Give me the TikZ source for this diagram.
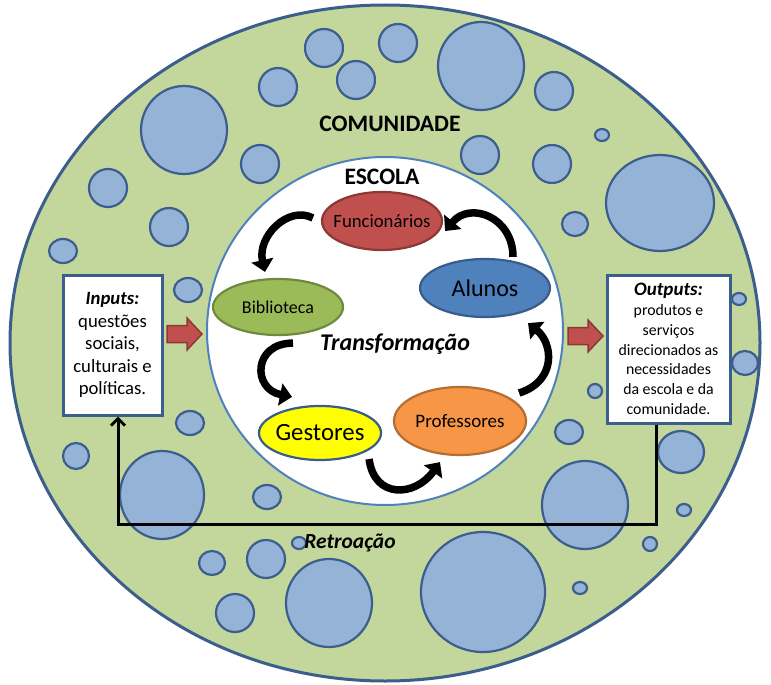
\documentclass[tikz,border=0pt]{standalone}
\usepackage{fontspec}
\setmainfont{Carlito}
\usepackage{tikz}
\usetikzlibrary{positioning, arrows.meta, shapes.geometric, calc}

\definecolor{commfill}{HTML}{C3D69B}
\definecolor{ringline}{HTML}{3B5E8C}
\definecolor{bubblefill}{HTML}{95B3D7}
\definecolor{innerline}{HTML}{4F81BD}
\definecolor{funcfill}{HTML}{C0504D}
\definecolor{funcline}{HTML}{8C3836}
\definecolor{bibfill}{HTML}{9BBB59}
\definecolor{bibline}{HTML}{71893F}
\definecolor{alufill}{HTML}{4F81BD}
\definecolor{aluline}{HTML}{385D8A}
\definecolor{gesfill}{HTML}{FFFF00}
\definecolor{proffill}{HTML}{F79646}
\definecolor{profline}{HTML}{B66D31}

\begin{document}
\begin{tikzpicture}[x=1pt, y=-1pt,
    bubble/.style={draw=ringline, fill=bubblefill, line width=2.2pt},
    member/.style={ellipse, line width=2.2pt, inner sep=0pt},
    infobox/.style={rectangle, draw=ringline, fill=white, line width=3pt,
                    align=center, inner sep=0pt},
    turn/.style={line width=7.5pt, -{Triangle[length=12pt, width=22pt]}},
    blockarrow/.style={draw=funcline, fill=funcfill, line width=1.5pt, line join=miter},
    feedback/.style={line width=3pt, -{Straight Barb[length=7pt, width=14pt]}},
    title/.style={font=\bfseries\fontsize{23.6}{28}\selectfont}
]

    \useasboundingbox (0,0) rectangle (771,685);
    \fill[white] (0,0) rectangle (771,685);

    % Community
    \draw[draw=ringline, fill=commfill, line width=3pt] (385,343) ellipse [x radius=375, y radius=338];

    % Bubbles
    \foreach \x/\y/\a/\b in {324/48/19/19, 356/80/19/19, 278/87/19/19, 184/130/43/44,
        260/164/19/19, 108/188/19/19, 169/227/19/19, 63/251/14/12, 188/290/14/12,
        398/43/19/19, 481/66/43/44, 554/91/19/19, 602/135/7/6, 480/155/19/19,
        552/164/19/19, 660/203/54/48, 575/224/13/12, 739/299/7/6,
        745/363/13/12, 595/391/7/7, 569/432/14/12, 681/452/23/21, 585/505/43/44,
        684/510/7/6, 650/544/7/7, 580/588/7/6, 483/592/62/60,
        190/423/14/12, 76/456/13/13, 162/495/42/44, 267/497/14/12, 299/543/7/6,
        266/559/19/19, 212/563/13/12, 235/613/19/19, 329/603/43/44}
        \draw[bubble] (\x,\y) ellipse [x radius=\a, y radius=\b];

    % School
    \draw[draw=innerline, fill=white, line width=2pt] (385,331) ellipse [x radius=178, y radius=174];

    \node[title] (comunidade) at (390,124) {COMUNIDADE};
    \node[title] (escola) at (382,177) {ESCOLA};
    \node[font=\bfseries\itshape\fontsize{24}{28}\selectfont] (transf) at (395,344) {Transformação};

    % Members
    \node[member, draw=funcline, fill=funcfill, minimum width=120pt, minimum height=58pt,
          label={[font=\fontsize{18.7}{22}\selectfont]center:Funcionários}] (func) at (382,221) {};
    \node[member, draw=bibline, fill=bibfill, minimum width=130pt, minimum height=56pt,
          label={[font=\fontsize{18}{22}\selectfont]center:Biblioteca}] (bib) at (278,307) {};
    \node[member, draw=aluline, fill=alufill, minimum width=130pt, minimum height=58pt,
          label={[font=\fontsize{24}{28}\selectfont]center:Alunos}] (alu) at (485,288) {};
    \node[member, draw=aluline, fill=gesfill, minimum width=122pt, minimum height=54pt,
          label={[font=\fontsize{24.8}{29}\selectfont]center:Gestores}] (ges) at (320,433) {};
    \node[member, draw=profline, fill=proffill, minimum width=132pt, minimum height=68pt,
          label={[font=\fontsize{19}{23}\selectfont]center:Professores}] (prof) at (460,421) {};

    % Cycle
    \draw[turn] ($(func.west)+(-8,-3)$) .. controls +(-25,-13) and +(-8,-35) .. ($(bib.north)+(-13,-6)$);
    \draw[turn] ($(bib.south)+(15,7)$) .. controls +(-40,0) and +(-40,-8) .. ($(ges.north)+(-28,-8)$);
    \draw[turn] ($(ges.east)+(-13,26)$) .. controls +(5,40) and +(-25,35) .. ($(prof.south)+(-20,6)$);
    \draw[turn] ($(prof.east)+(-8,-28)$) .. controls +(38,-12) and +(25,20) .. ($(alu.south)+(43,5)$);
    \draw[turn] ($(alu.north)+(28,-1)$) .. controls +(0,-40) and +(25,-30) .. ($(func.east)+(2,10)$);

    % Inputs and outputs
    \node[infobox, minimum width=99pt, minimum height=140pt,
          font=\fontsize{18.7}{22.5}\selectfont] (inbox) at (112.5,345)
          {\textbf{\textit{Inputs:}}\\questões\\sociais,\\culturais e\\políticas.};
    \node[infobox, minimum width=123pt, minimum height=148pt,
          font=\fontsize{15.8}{19.8}\selectfont] (outbox) at (668.5,349)
          {{\fontsize{19}{21}\selectfont\textbf{\textit{Outputs:}}}\\produtos e\\serviços\\direcionados as\\necessidades\\da escola e da\\comunidade.};

    \coordinate (inarrow) at (167,334);
    \coordinate (outarrow) at (568,336);
    \foreach \a in {inarrow, outarrow}
        \draw[blockarrow] (\a) ++(0,-8.5) -- ++(20,0) -- ++(0,-7.5) -- ++(15,16)
            -- ++(-15,16) -- ++(0,-7.5) -- ++(-20,0) -- cycle;

    % Feedback
    \draw[feedback] ([xshift=-12.5pt]outbox.south) -- ++(0,100) -| ([xshift=5.5pt]inbox.south);
    \node[font=\bfseries\itshape\fontsize{21.5}{25}\selectfont] (retro) at (350,543) {Retroação};

\end{tikzpicture}
\end{document}
